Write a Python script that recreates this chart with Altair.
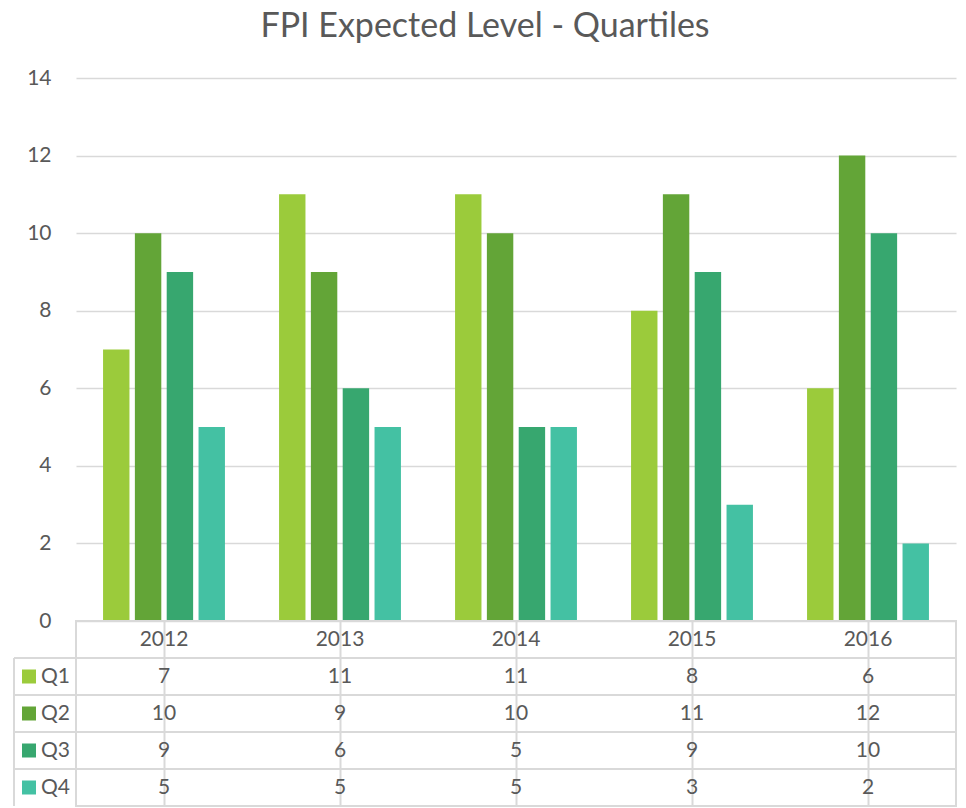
import altair as alt
import pandas as pd

years = ["2012", "2013", "2014", "2015", "2016"]
quartiles = ["Q1", "Q2", "Q3", "Q4"]
q1 = [7, 11, 11, 8, 6]
q2 = [10, 9, 10, 11, 12]
q3 = [9, 6, 5, 9, 10]
q4 = [5, 5, 5, 3, 2]
colors = ["#9BCB3B", "#63A537", "#37A76F", "#44C1A3"]
y_ticks = [0, 2, 4, 6, 8, 10, 12, 14]
title_text = "FPI Expected Level - Quartiles"

series = dict(zip(quartiles, [q1, q2, q3, q4]))
df = pd.DataFrame(
    [{"year": y, "q": q, "value": v} for q in quartiles for y, v in zip(years, series[q])]
)
year_df = pd.DataFrame({"year": years, "row": ["Year"] * len(years)})
q_df = pd.DataFrame({"q": quartiles})
one_df = pd.DataFrame({"k": [0]})

W = 880
H = 543
ROW = 37
TXT = "#595959"
GRID = "#D9D9D9"
FONT = "Lato"
FS = 21

xscale = alt.Scale(domain=years, paddingInner=0, paddingOuter=0)
row_dom = ["Year"] + quartiles
yscale = alt.Scale(domain=row_dom, paddingInner=0, paddingOuter=0)
cscale = alt.Scale(domain=quartiles, range=colors)

bars = alt.Chart(df).mark_bar().encode(
    x=alt.X("year:N", scale=xscale, axis=None),
    xOffset=alt.XOffset("q:N", scale=alt.Scale(domain=quartiles, paddingInner=0.17, paddingOuter=0.85)),
    y=alt.Y("value:Q", scale=alt.Scale(domain=[0, 14], nice=False),
            axis=alt.Axis(values=y_ticks, title=None, domain=False, ticks=False,
                          labelFontSize=FS, labelColor=TXT, labelFont=FONT,
                          labelPadding=25, gridColor=GRID, gridWidth=1.5)),
    color=alt.Color("q:N", scale=cscale, legend=None),
).properties(width=W, height=H, view=alt.ViewBackground(stroke=None))

cells = alt.Chart(df).mark_text(fontSize=FS, font=FONT, color=TXT).encode(
    x=alt.X("year:N", scale=xscale,
            axis=alt.Axis(grid=True, bandPosition=0, labels=False, ticks=False, domain=False,
                          title=None, gridColor=GRID, gridWidth=2)),
    y=alt.Y("q:N", scale=yscale, axis=None),
    text="value:Q",
)
header = alt.Chart(year_df).mark_text(fontSize=FS, font=FONT, color=TXT).encode(
    x=alt.X("year:N", scale=xscale),
    y=alt.Y("row:N", scale=yscale, axis=None),
    text="year:N",
)
hrules = alt.Chart(q_df).mark_rule(color=GRID, strokeWidth=2).encode(
    y=alt.Y("q:N", scale=yscale, bandPosition=0, axis=None),
    x=alt.value(-62),
    x2=alt.value(W),
)
vrule = alt.Chart(one_df).mark_rule(color=GRID, strokeWidth=2).encode(
    x=alt.value(-62),
    y=alt.value(ROW),
    y2=alt.value(ROW * 5),
)
squares = alt.Chart(q_df).mark_square(size=196, opacity=1).encode(
    x=alt.value(-47),
    y=alt.Y("q:N", scale=yscale, axis=None),
    color=alt.Color("q:N", scale=cscale, legend=None),
)
qlabels = alt.Chart(q_df).mark_text(fontSize=FS, font=FONT, color=TXT, align="left").encode(
    x=alt.value(-35),
    y=alt.Y("q:N", scale=yscale, axis=None),
    text="q:N",
)

table = alt.layer(hrules, vrule, cells, header, squares, qlabels).properties(
    width=W, height=ROW * 5, view=alt.ViewBackground(stroke=GRID, strokeWidth=2)
)

chart = alt.vconcat(bars, table, spacing=0, bounds="flush").properties(
    title=alt.TitleParams(title_text, fontSize=34, font=FONT, color=TXT,
                          fontWeight="normal", anchor="middle", offset=23),
    padding={"left": 4, "top": 2, "right": 0, "bottom": 0},
).configure(background="white")

chart.save("out.html", embed_options={"renderer": "svg", "actions": False})
